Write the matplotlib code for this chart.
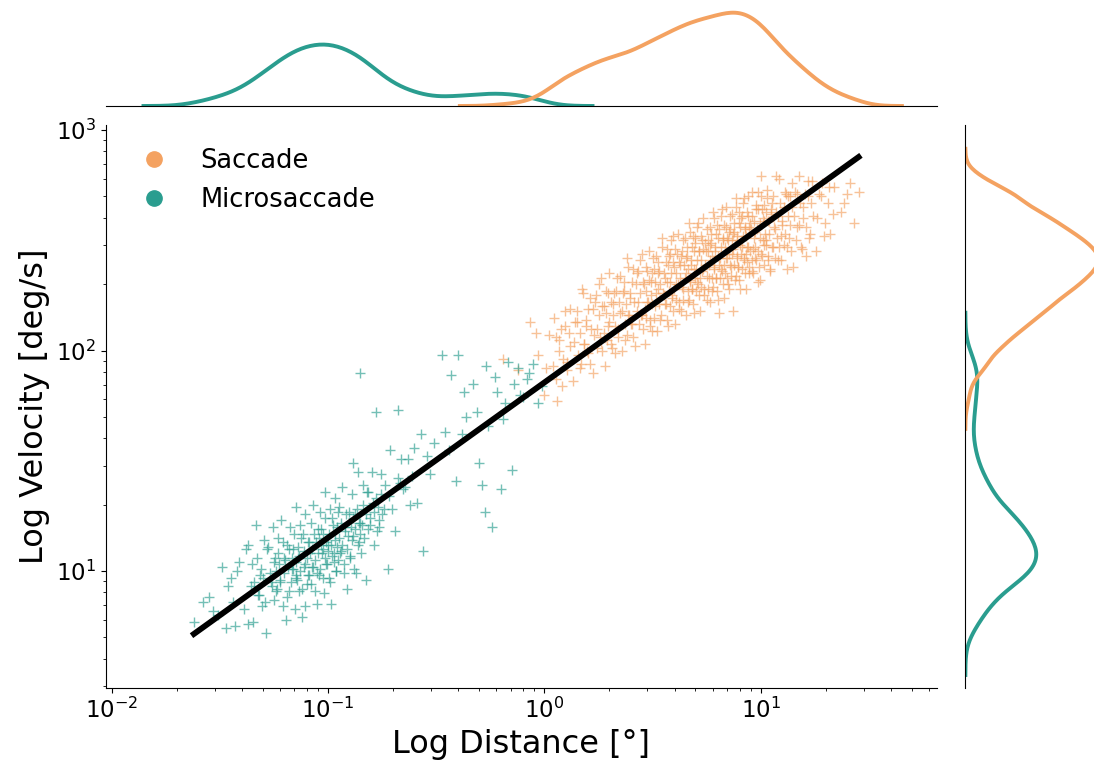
import numpy as np
import pandas as pd
import matplotlib
matplotlib.use("Agg")
import matplotlib.pyplot as plt
from matplotlib.lines import Line2D
import seaborn as sns

SACCADE_COLOR = "#F4A261"
MICRO_COLOR = "#2A9D8F"

# (log10 amplitude [deg], log10 peak velocity [deg/s]) per detected event
micro_points = [
    (-1.62, 0.77), (-1.55, 0.88), (-1.51, 0.80),
    (-1.46, 0.93), (-1.44, 0.86), (-1.42, 1.00), (-1.38, 1.10), (-1.37, 0.76),
    (-1.34, 0.95), (-1.33, 1.06), (-1.32, 0.89), (-1.31, 1.01), (-1.30, 0.97),
    (-1.29, 0.86), (-1.28, 1.10), (-1.27, 0.99), (-1.26, 0.93), (-1.25, 1.04),
    (-1.24, 1.00), (-1.235, 0.92), (-1.23, 1.08), (-1.225, 1.03), (-1.22, 0.96),
    (-1.21, 1.13), (-1.205, 0.99), (-1.20, 1.05), (-1.19, 0.88), (-1.185, 1.02),
    (-1.18, 1.10), (-1.17, 0.95), (-1.165, 1.06), (-1.16, 1.01), (-1.155, 1.17),
    (-1.15, 0.98),
    (-1.148, 1.04), (-1.143, 0.96), (-1.138, 1.11), (-1.133, 1.07), (-1.128, 1.00),
    (-1.123, 1.15), (-1.118, 0.92), (-1.113, 1.09), (-1.108, 1.03), (-1.105, 0.84),
    (-1.098, 1.06), (-1.093, 0.98), (-1.088, 1.13), (-1.083, 1.08), (-1.078, 0.94),
    (-1.073, 1.10), (-1.068, 1.02), (-1.063, 1.17), (-1.058, 1.05), (-1.053, 0.99),
    (-1.048, 1.08), (-1.043, 1.15), (-1.039, 1.01), (-1.034, 1.12), (-1.030, 1.19),
    (-1.025, 0.97), (-1.021, 1.10), (-1.016, 1.06), (-1.012, 1.24), (-1.007, 1.13),
    (-1.003, 1.03), (-0.998, 1.09), (-0.994, 1.17), (-0.989, 0.95), (-0.985, 1.12),
    (-0.980, 1.07), (-0.976, 1.21), (-0.971, 1.04), (-0.967, 1.14), (-0.962, 1.00),
    (-0.958, 1.11), (-0.953, 1.27),
    (-0.948, 1.15), (-0.943, 1.08), (-0.938, 1.22), (-0.933, 1.12), (-0.928, 1.03),
    (-0.923, 1.18), (-0.918, 1.26), (-0.913, 1.10), (-0.908, 1.16), (-0.884, 1.49),
    (-0.898, 1.07), (-0.893, 1.20), (-0.888, 1.14), (-0.883, 1.24), (-0.878, 1.01),
    (-0.873, 1.19), (-0.868, 1.28), (-0.863, 1.12), (-0.858, 1.22), (-0.853, 1.17),
    (-0.845, 1.21), (-0.838, 1.30), (-0.832, 1.15), (-0.826, 1.26), (-0.820, 1.36),
    (-0.813, 1.19), (-0.807, 1.24), (-0.852, 1.90), (-0.794, 1.31), (-0.788, 1.27),
    (-0.778, 1.72), (-0.775, 1.18), (-0.769, 1.29), (-0.762, 1.23), (-0.756, 1.35),
    (-0.750, 1.26),
    (-0.737, 1.39), (-0.722, 1.01), (-0.720, 1.34), (-0.703, 1.28), (-0.677, 1.73),
    (-0.678, 1.42), (-0.662, 1.51), (-0.653, 1.37),
    (-0.645, 1.38), (-0.623, 1.30), (-0.612, 1.43), (-0.601, 1.56), (-0.568, 1.62),
    (-0.560, 1.09),
    (-0.540, 1.52), (-0.510, 1.58), (-0.474, 1.98), (-0.460, 1.63),
    (-0.43, 1.89), (-0.41, 1.41), (-0.40, 1.98), (-0.38, 1.62), (-0.36, 1.70),
    (-0.33, 1.85), (-0.30, 1.49), (-0.29, 1.39), (-0.274, 1.27), (-0.26, 1.66),
    (-0.24, 1.20), (-0.22, 1.81), (-0.20, 1.37), (-0.18, 1.76), (-0.15, 1.46),
    (-0.14, 1.85), (-0.12, 1.92), (-0.10, 1.79), (-0.08, 1.87), (-0.05, 1.94),
    (-0.01, 1.84),
    # second recording session
    (-1.58, 0.86), (-1.53, 0.82), (-1.49, 1.02), (-1.47, 0.74),
    (-1.45, 0.97), (-1.43, 0.75), (-1.41, 1.04), (-1.39, 0.83), (-1.37, 1.12),
    (-1.355, 0.93), (-1.35, 1.03),
    (-1.345, 0.77), (-1.335, 1.21), (-1.325, 0.89), (-1.315, 0.98), (-1.305, 0.84),
    (-1.295, 1.14), (-1.285, 0.72), (-1.275, 1.11), (-1.265, 0.95), (-1.255, 1.20),
    (-1.25, 0.87),
    (-1.245, 1.06), (-1.238, 0.91), (-1.231, 1.15), (-1.224, 0.95), (-1.217, 1.23),
    (-1.210, 0.84), (-1.203, 1.06), (-1.196, 0.78), (-1.189, 1.12), (-1.182, 0.91),
    (-1.175, 1.20), (-1.168, 1.01), (-1.161, 1.10), (-1.154, 0.83), (-1.15, 1.29),
    (-1.146, 0.97), (-1.140, 1.06), (-1.134, 0.91), (-1.128, 1.21), (-1.122, 0.79),
    (-1.116, 1.17), (-1.110, 1.02), (-1.104, 1.26), (-1.098, 0.94), (-1.092, 1.13),
    (-1.086, 0.98), (-1.080, 1.22), (-1.074, 1.02), (-1.068, 1.30), (-1.062, 0.91),
    (-1.056, 1.13), (-1.051, 0.85),
    (-1.046, 1.19), (-1.040, 0.98), (-1.035, 1.27), (-1.029, 1.08), (-1.024, 1.17),
    (-1.018, 0.90), (-1.013, 1.36), (-1.007, 1.03), (-1.002, 1.12), (-0.996, 0.97),
    (-0.991, 1.28), (-0.985, 0.85), (-0.980, 1.24), (-0.974, 1.08), (-0.969, 1.33),
    (-0.963, 1.00), (-0.958, 1.20), (-0.952, 1.05),
    (-0.947, 1.29), (-0.940, 1.09), (-0.933, 1.38), (-0.926, 0.99), (-0.919, 1.20),
    (-0.912, 0.92), (-0.905, 1.27), (-0.898, 1.06), (-0.891, 1.35), (-0.884, 1.16),
    (-0.877, 1.26), (-0.870, 0.99), (-0.863, 1.45), (-0.856, 1.13), (-0.851, 1.22),
    (-0.846, 1.08), (-0.836, 1.39), (-0.826, 0.96), (-0.816, 1.36), (-0.806, 1.21),
    (-0.796, 1.45), (-0.786, 1.12), (-0.776, 1.33), (-0.766, 1.20), (-0.756, 1.44),
    (-0.74, 1.28), (-0.715, 1.55), (-0.69, 1.18), (-0.665, 1.40),
    (-0.63, 1.51), (-0.59, 1.31), (-0.53, 1.44),
    (-0.44, 1.55), (-0.37, 1.81), (-0.31, 1.72), (-0.27, 1.93),
    (-0.23, 1.88), (-0.19, 1.69), (-0.17, 1.95),
    (-0.11, 1.80), (-0.07, 1.90), (-0.03, 1.76),
]

saccade_points = [
    (-0.19, 1.96),
    (-0.066, 2.13), (-0.03, 1.98), (0.00, 1.80), (0.02, 2.07), (0.04, 1.93),
    (0.052, 2.06), (0.061, 1.77), (0.070, 2.00), (0.078, 2.10), (0.087, 1.96),
    (0.095, 2.18), (0.104, 1.91), (0.113, 2.08), (0.121, 2.02), (0.132, 1.86),
    (0.143, 2.13),
    (0.152, 2.18), (0.158, 1.98), (0.165, 2.08), (0.171, 1.94), (0.178, 2.26),
    (0.184, 2.03), (0.191, 2.14), (0.197, 2.00), (0.204, 2.19), (0.211, 1.94),
    (0.217, 2.10), (0.224, 2.19), (0.231, 2.07), (0.239, 2.25), (0.246, 2.01),
    (0.252, 2.16), (0.257, 2.06), (0.263, 2.33), (0.268, 2.00), (0.274, 2.20),
    (0.279, 1.93), (0.285, 2.17), (0.290, 2.05), (0.296, 2.26), (0.301, 2.13),
    (0.307, 2.22), (0.312, 2.01), (0.318, 2.16), (0.323, 2.26), (0.329, 2.11),
    (0.334, 2.33), (0.340, 2.06), (0.346, 2.22),
    (0.352, 2.17), (0.357, 2.00), (0.362, 2.26), (0.367, 2.31), (0.372, 2.12),
    (0.377, 2.21), (0.382, 2.07), (0.387, 2.38), (0.392, 2.16), (0.397, 2.26),
    (0.402, 2.12), (0.407, 2.31), (0.412, 2.06), (0.417, 2.22), (0.422, 2.30),
    (0.427, 2.18), (0.432, 2.36), (0.437, 2.12), (0.442, 2.26), (0.447, 2.16),
    (0.452, 2.44), (0.456, 2.10), (0.460, 2.30), (0.464, 2.03), (0.468, 2.27),
    (0.472, 2.15), (0.476, 2.36), (0.480, 2.22), (0.484, 2.32), (0.488, 2.11),
    (0.492, 2.25), (0.496, 2.35), (0.500, 2.21), (0.504, 2.42), (0.508, 2.15),
    (0.512, 2.31), (0.516, 2.26), (0.520, 2.09), (0.524, 2.35), (0.528, 2.40),
    (0.532, 2.21), (0.536, 2.30), (0.540, 2.16), (0.545, 2.47),
    (0.552, 2.25), (0.555, 2.35), (0.559, 2.21), (0.562, 2.40), (0.566, 2.14),
    (0.569, 2.31), (0.573, 2.39), (0.576, 2.27), (0.580, 2.44), (0.583, 2.20),
    (0.587, 2.35), (0.590, 2.25), (0.594, 2.52), (0.597, 2.18), (0.601, 2.38),
    (0.604, 2.12), (0.608, 2.35), (0.611, 2.23), (0.615, 2.44), (0.618, 2.30),
    (0.622, 2.40), (0.625, 2.19), (0.629, 2.33), (0.632, 2.43), (0.636, 2.29),
    (0.639, 2.50), (0.643, 2.23), (0.646, 2.39),
    (0.651, 2.33), (0.654, 2.16), (0.657, 2.42), (0.660, 2.47), (0.663, 2.27),
    (0.666, 2.37), (0.669, 2.23), (0.672, 2.54), (0.675, 2.31), (0.678, 2.41),
    (0.681, 2.28), (0.684, 2.47), (0.687, 2.21), (0.690, 2.37), (0.693, 2.45),
    (0.696, 2.33), (0.699, 2.51), (0.702, 2.27), (0.705, 2.41), (0.708, 2.31),
    (0.711, 2.58), (0.714, 2.25), (0.717, 2.45), (0.720, 2.18), (0.723, 2.41),
    (0.726, 2.29), (0.729, 2.50), (0.732, 2.37), (0.735, 2.46), (0.738, 2.25),
    (0.741, 2.39), (0.745, 2.49),
    (0.750, 2.34), (0.753, 2.55), (0.756, 2.28), (0.759, 2.45), (0.762, 2.39),
    (0.765, 2.22), (0.768, 2.48), (0.771, 2.53), (0.774, 2.33), (0.777, 2.43),
    (0.780, 2.29), (0.783, 2.60), (0.786, 2.37), (0.789, 2.47), (0.792, 2.33),
    (0.795, 2.53), (0.798, 2.27), (0.801, 2.43), (0.804, 2.51), (0.807, 2.39),
    (0.810, 2.17), (0.813, 2.33), (0.816, 2.47), (0.819, 2.37), (0.822, 2.64),
    (0.825, 2.30), (0.828, 2.50), (0.831, 2.24), (0.834, 2.47), (0.837, 2.35),
    (0.840, 2.56), (0.843, 2.42), (0.846, 2.51), (0.849, 2.30),
    (0.852, 2.44), (0.855, 2.54), (0.857, 2.39), (0.860, 2.61), (0.863, 2.34),
    (0.866, 2.50), (0.868, 2.44), (0.871, 2.18), (0.874, 2.53), (0.877, 2.58),
    (0.879, 2.39), (0.882, 2.48), (0.885, 2.34), (0.888, 2.65), (0.890, 2.42),
    (0.893, 2.52), (0.896, 2.38), (0.899, 2.58), (0.901, 2.32), (0.904, 2.48),
    (0.907, 2.56), (0.910, 2.44), (0.912, 2.61), (0.915, 2.37), (0.918, 2.52),
    (0.921, 2.42), (0.923, 2.69), (0.926, 2.35), (0.929, 2.55), (0.932, 2.28),
    (0.934, 2.52), (0.937, 2.40), (0.940, 2.61), (0.943, 2.47), (0.945, 2.56),
    (0.948, 2.35),
    (0.952, 2.45), (0.955, 2.55), (0.958, 2.41), (0.961, 2.61), (0.965, 2.35),
    (0.968, 2.51), (0.971, 2.59), (0.974, 2.47), (0.977, 2.64), (0.980, 2.41),
    (0.983, 2.55), (0.986, 2.45), (0.989, 2.72), (0.993, 2.38), (0.996, 2.58),
    (0.999, 2.32), (1.002, 2.79), (1.005, 2.43), (1.008, 2.64), (1.011, 2.50),
    (1.014, 2.59), (1.017, 2.39), (1.021, 2.53), (1.024, 2.63), (1.027, 2.48),
    (1.030, 2.69), (1.033, 2.43), (1.036, 2.59), (1.039, 2.53), (1.042, 2.36),
    (1.046, 2.62),
    (1.051, 2.67), (1.056, 2.47), (1.061, 2.56), (1.066, 2.42), (1.071, 2.79),
    (1.076, 2.51), (1.081, 2.61), (1.086, 2.47), (1.091, 2.67), (1.096, 2.41),
    (1.101, 2.57), (1.106, 2.65), (1.111, 2.53), (1.116, 2.71), (1.121, 2.47),
    (1.126, 2.61), (1.131, 2.51), (1.136, 2.70), (1.141, 2.45), (1.146, 2.65),
    (1.150, 2.38),
    (1.155, 2.61), (1.162, 2.50), (1.169, 2.71), (1.176, 2.57), (1.183, 2.67),
    (1.190, 2.46), (1.197, 2.60), (1.204, 2.71), (1.211, 2.56), (1.218, 2.77),
    (1.225, 2.51), (1.232, 2.67), (1.240, 2.61),
    (1.258, 2.45), (1.271, 2.71), (1.284, 2.76), (1.297, 2.58), (1.310, 2.67),
    (1.323, 2.53), (1.338, 2.74),
    (1.37, 2.63), (1.40, 2.71), (1.43, 2.58),
    (1.453, 2.72),
    # second recording session
    (-0.12, 1.91), (-0.04, 2.08), (0.01, 1.92), (0.045, 2.15),
    (0.055, 1.87), (0.068, 2.05), (0.081, 1.84), (0.094, 2.11), (0.107, 1.95),
    (0.120, 2.19), (0.138, 2.04),
    (0.153, 2.13), (0.163, 1.92), (0.173, 2.28), (0.183, 2.03), (0.193, 2.11),
    (0.203, 1.99), (0.213, 2.24), (0.223, 1.90), (0.233, 2.22), (0.243, 2.10),
    (0.253, 2.30), (0.261, 2.04), (0.269, 2.20), (0.277, 2.08), (0.285, 2.27),
    (0.293, 2.11), (0.301, 2.35), (0.309, 2.03), (0.317, 2.21), (0.325, 1.99),
    (0.333, 2.27), (0.343, 2.10),
    (0.352, 2.34), (0.359, 2.18), (0.367, 2.27), (0.374, 2.05), (0.382, 2.42),
    (0.389, 2.16), (0.397, 2.24), (0.404, 2.12), (0.412, 2.37), (0.419, 2.02),
    (0.427, 2.35), (0.434, 2.22), (0.444, 2.41),
    (0.452, 2.16), (0.458, 2.31), (0.464, 2.19), (0.470, 2.38), (0.476, 2.22),
    (0.482, 2.45), (0.488, 2.14), (0.494, 2.31), (0.500, 2.09), (0.506, 2.37),
    (0.512, 2.20), (0.518, 2.43), (0.524, 2.28), (0.530, 2.36), (0.536, 2.14),
    (0.543, 2.51),
    (0.551, 2.26), (0.556, 2.33), (0.561, 2.21), (0.566, 2.46), (0.571, 2.11),
    (0.576, 2.43), (0.581, 2.31), (0.586, 2.50), (0.591, 2.24), (0.596, 2.40),
    (0.601, 2.28), (0.606, 2.46), (0.611, 2.30), (0.616, 2.53), (0.621, 2.22),
    (0.626, 2.39), (0.631, 2.18), (0.636, 2.45), (0.643, 2.28),
    (0.650, 2.51), (0.655, 2.35), (0.660, 2.43), (0.664, 2.22), (0.669, 2.58),
    (0.674, 2.32), (0.679, 2.39), (0.683, 2.28), (0.688, 2.52), (0.693, 2.17),
    (0.698, 2.49), (0.702, 2.37), (0.707, 2.56), (0.712, 2.30), (0.717, 2.45),
    (0.721, 2.33), (0.726, 2.52), (0.731, 2.36), (0.736, 2.60), (0.740, 2.28),
    (0.746, 2.45),
    (0.751, 2.23), (0.755, 2.50), (0.760, 2.33), (0.764, 2.56), (0.768, 2.41),
    (0.773, 2.49), (0.777, 2.27), (0.781, 2.63), (0.786, 2.38), (0.790, 2.45),
    (0.794, 2.33), (0.799, 2.57), (0.803, 2.23), (0.807, 2.55), (0.812, 2.42),
    (0.816, 2.61), (0.820, 2.36), (0.825, 2.51), (0.829, 2.39), (0.833, 2.57),
    (0.838, 2.42), (0.842, 2.65), (0.847, 2.33),
    (0.851, 2.50), (0.855, 2.28), (0.859, 2.55), (0.863, 2.38), (0.868, 2.62),
    (0.872, 2.46), (0.876, 2.54), (0.880, 2.32), (0.885, 2.69), (0.889, 2.43),
    (0.893, 2.50), (0.897, 2.38), (0.901, 2.63), (0.906, 2.28), (0.910, 2.60),
    (0.914, 2.47), (0.918, 2.67), (0.922, 2.41), (0.927, 2.56), (0.931, 2.44),
    (0.935, 2.63), (0.939, 2.47), (0.944, 2.70), (0.948, 2.38),
    (0.953, 2.58), (0.958, 2.36), (0.962, 2.72), (0.967, 2.46), (0.972, 2.54),
    (0.976, 2.42), (0.981, 2.66), (0.986, 2.31), (0.990, 2.64), (0.995, 2.51),
    (1.000, 2.70), (1.004, 2.44), (1.009, 2.60), (1.014, 2.48), (1.018, 2.66),
    (1.023, 2.50), (1.028, 2.73), (1.032, 2.41), (1.037, 2.59), (1.042, 2.37),
    (1.046, 2.64),
    (1.052, 2.47), (1.059, 2.70), (1.066, 2.55), (1.073, 2.63), (1.080, 2.41),
    (1.087, 2.78), (1.094, 2.52), (1.101, 2.59), (1.108, 2.48), (1.115, 2.72),
    (1.122, 2.37), (1.129, 2.70), (1.136, 2.57), (1.145, 2.76),
    (1.158, 2.72), (1.168, 2.56), (1.178, 2.79), (1.188, 2.47), (1.198, 2.65),
    (1.208, 2.43), (1.218, 2.70), (1.228, 2.53), (1.238, 2.77),
    (1.262, 2.60), (1.279, 2.70), (1.295, 2.52), (1.315, 2.74), (1.335, 2.62),
    (1.385, 2.67), (1.415, 2.76),
]

# main-sequence fit: log10(v) = intercept + slope * log10(d)
fit_slope = 0.704
fit_intercept = 1.855

labels = ["Saccade", "Microsaccade"]
palette = {"Saccade": SACCADE_COLOR, "Microsaccade": MICRO_COLOR}


def to_frame(points, label):
    lx, ly = np.array(points).T
    return pd.DataFrame({"distance": 10 ** lx, "velocity": 10 ** ly, "type": label})


df = pd.concat([to_frame(saccade_points, "Saccade"),
                to_frame(micro_points, "Microsaccade")], ignore_index=True)

fig = plt.figure(figsize=(10.94, 7.62), dpi=100)
ax = fig.add_axes([0.0966, 0.0967, 0.7596, 0.7392])
ax_top = fig.add_axes([0.0966, 0.8609, 0.7596, 0.1286], sharex=ax)
ax_right = fig.add_axes([0.8824, 0.0967, 0.1176, 0.7392], sharey=ax)

for name in labels:
    sub = df[df["type"] == name]
    ax.scatter(sub["distance"], sub["velocity"], marker="+", s=48,
               linewidths=1.0, color=palette[name], alpha=0.65, zorder=2)

# regression line across the full amplitude range
lx_all = np.log10(df["distance"].to_numpy())
lx_line = np.array([lx_all.min(), lx_all.max()])
ax.plot(10 ** lx_line, 10 ** (fit_intercept + fit_slope * lx_line),
        color="black", lw=4.2, zorder=3)

ax.set_xscale("log")
ax.set_yscale("log")

# marginal densities (computed in log space)
sns.kdeplot(data=df, x="distance", hue="type", hue_order=labels, palette=palette,
            ax=ax_top, log_scale=True, common_norm=True, bw_adjust=0.7,
            linewidth=2.8, legend=False)
sns.kdeplot(data=df, y="velocity", hue="type", hue_order=labels, palette=palette,
            ax=ax_right, log_scale=True, common_norm=True, bw_adjust=0.7,
            linewidth=2.8, legend=False)

ax.set_xlim(10 ** -2.0277, 10 ** 1.8141)
ax.set_ylim(10 ** 0.468, 10 ** 3.023)

ax_top.set_ylim(bottom=0)
# right panel is cut at the figure edge, so the saccade peak runs off slightly
peak = max(line.get_xdata().max() for line in ax_right.lines)
ax_right.set_xlim(0, peak * 0.97)

for spine in ["top", "right"]:
    ax.spines[spine].set_visible(False)
for spine in ["top", "right", "left"]:
    ax_top.spines[spine].set_visible(False)
for spine in ["top", "right", "bottom"]:
    ax_right.spines[spine].set_visible(False)
ax_top.tick_params(which="both", bottom=False, left=False,
                   labelbottom=False, labelleft=False)
ax_right.tick_params(which="both", bottom=False, left=False,
                     labelbottom=False, labelleft=False)
ax_top.set_xlabel("")
ax_top.set_ylabel("")
ax_right.set_xlabel("")
ax_right.set_ylabel("")

ax.tick_params(axis="both", which="major", labelsize=16.5)
ax.set_xlabel("Log Distance [°]", fontsize=23)
ax.set_ylabel("Log Velocity [deg/s]", fontsize=23)

handles = [Line2D([], [], marker="o", ls="", color=palette[n], markersize=11)
           for n in labels]
ax.legend(handles, labels, loc="upper left", frameon=False, fontsize=18.5)

fig.savefig("out.png", dpi=100)
